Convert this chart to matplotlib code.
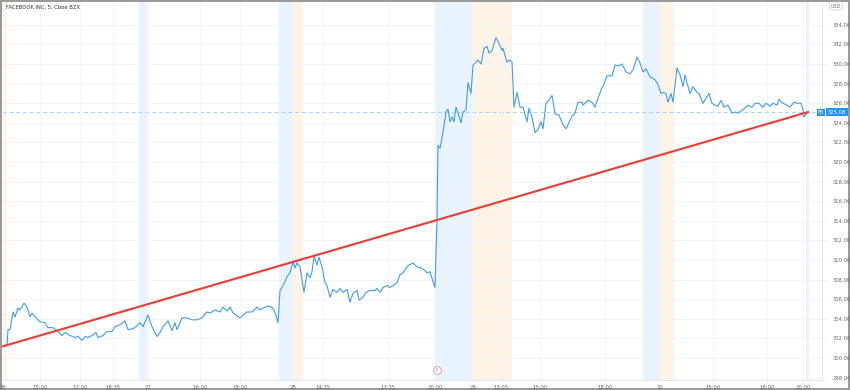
import matplotlib
matplotlib.use('Agg')
import matplotlib.pyplot as plt
from matplotlib.transforms import blended_transform_factory

# 5 minute bars (bar index) and close prices
bar = [3, 7, 8, 10, 13, 15, 18, 20, 24, 27, 30, 32, 35, 40, 45, 48, 53, 58, 62, 65,
       70, 75, 78, 82, 85, 88, 92, 96, 98, 103, 107, 112, 115, 120, 125, 128, 133, 137, 140, 143,
       148, 152, 157, 160, 163, 168, 172, 175, 177, 182, 187, 192, 197, 202, 207, 210, 215, 220, 223, 227,
       230, 233, 240, 247, 252, 257, 260, 263, 268, 272, 275, 278, 280, 282, 285, 287, 290, 293, 295, 297,
       300, 304, 307, 310, 312, 314, 317, 319, 322, 325, 327, 330, 333, 337, 340, 343, 347, 350, 353, 357,
       359, 363, 366, 370, 375, 377, 380, 383, 387, 390, 393, 397, 400, 403, 407, 409, 413, 417, 421, 424,
       427, 430, 433, 435, 437, 438, 440, 443, 446, 448, 450, 452, 454, 456, 458, 461, 463, 466, 468, 471,
       473, 476, 478, 481, 484, 487, 489, 492, 496, 499, 502, 503, 507, 509, 512, 514, 517, 520, 523, 527,
       529, 532, 535, 538, 541, 543, 546, 549, 552, 555, 559, 563, 566, 568, 572, 575, 578, 582, 583, 588,
       592, 595, 598, 602, 603, 607, 612, 615, 618, 622, 626, 630, 633, 637, 640, 643, 646, 650, 655, 658,
       661, 663, 666, 668, 671, 673, 677, 680, 683, 685, 687, 690, 693, 697, 699, 703, 706, 709, 712, 715,
       718, 721, 724, 728, 732, 735, 738, 742, 745, 748, 752, 755, 759, 763, 766, 770, 773, 777, 779, 783,
       787, 790, 794, 797, 801, 803, 804, 807, 808]
close = [301.2, 301.3, 302.9, 302.9, 304.7, 304.2, 305.1, 304.9, 305.6, 305.2, 304.2, 304.6, 304.2, 303.7, 303.6, 303.1, 303.1, 302.7, 302.3, 302.6,
         302.3, 302.1, 302.2, 301.8, 302.2, 302.1, 302.3, 302.6, 302.1, 302.3, 302.7, 302.7, 303.2, 303.4, 303.8, 302.9, 303.0, 303.3, 303.6, 303.2,
         304.4, 303.2, 302.2, 302.6, 303.2, 303.8, 302.8, 303.6, 302.9, 304.1, 304.1, 303.9, 303.9, 304.1, 304.7, 304.6, 304.9, 304.7, 305.2, 304.8,
         305.2, 304.6, 304.1, 304.7, 304.7, 305.2, 304.9, 305.1, 305.3, 305.2, 304.7, 303.6, 306.9, 307.2, 307.8, 308.3, 308.7, 309.8, 309.2, 309.7,
         309.3, 306.7, 308.7, 308.2, 308.8, 310.4, 309.5, 310.3, 309.3, 307.7, 307.4, 306.2, 307.0, 306.7, 307.1, 306.7, 307.0, 305.7, 306.6, 306.9,
         305.9, 306.2, 306.7, 306.9, 306.9, 307.1, 306.7, 307.2, 307.4, 307.2, 307.4, 307.7, 308.5, 308.7, 309.3, 309.5, 309.7, 309.3, 309.2, 309.0,
         308.7, 308.8, 307.8, 307.2, 314.1, 321.7, 321.4, 323.0, 325.1, 325.4, 324.1, 324.6, 324.1, 325.6, 325.0, 324.0, 325.1, 325.3, 328.1, 327.0,
         329.9, 330.2, 330.4, 330.0, 331.6, 331.8, 331.1, 331.4, 332.7, 332.1, 331.4, 331.6, 330.2, 330.4, 330.2, 325.6, 327.1, 325.6, 325.6, 324.1,
         325.5, 324.6, 323.0, 323.3, 324.1, 323.4, 326.0, 326.3, 326.8, 324.9, 324.8, 323.8, 323.4, 323.8, 324.7, 325.0, 326.1, 326.1, 325.8, 326.3,
         326.1, 325.6, 326.5, 327.6, 327.7, 328.8, 328.8, 329.9, 329.8, 330.0, 329.2, 329.0, 329.4, 330.7, 330.1, 329.2, 329.5, 328.7, 328.4, 327.9,
         327.0, 327.1, 327.0, 326.1, 327.0, 326.1, 329.6, 328.9, 327.7, 328.9, 328.1, 327.0, 327.7, 327.1, 327.0, 326.0, 326.5, 327.0, 326.0, 325.8,
         325.7, 326.3, 325.6, 325.8, 325.0, 325.1, 325.0, 325.3, 325.5, 325.8, 325.6, 326.0, 326.0, 325.6, 326.0, 325.7, 326.0, 325.8, 326.4, 326.0,
         325.8, 325.6, 326.1, 326.0, 326.0, 325.4, 324.6, 325.0, 325.08]

last_price = 325.08
trend_x = [3, 808]
trend_y = [301.2, 325.1]

tick_bars = [3, 40, 80, 113, 148, 200, 240, 293, 323, 388, 435, 473, 501, 540, 605, 660, 713, 767, 803]
tick_labels = ['26', '15:00', '17:00', '18:35', '27', '16:00', '18:00', '28', '14:35', '17:35', '20:00',
               '29', '13:05', '15:00', '18:00', '30', '15:00', '18:00', '20:00']
y_ticks = list(range(298, 336, 2))

# extended hours sessions (start bar, end bar)
premarket = [(139, 147), (279, 292), (435, 472), (643, 659), (806, 809)]
postmarket = [(3, 7), (292, 303), (472, 512), (659, 674)]
earnings_bar = 437

fig = plt.figure(figsize=(8.5, 3.9), dpi=100, linewidth=1.5, edgecolor='#9a9a9a')
ax = fig.add_axes([2/850, 10/390, 820/850, 378/390])
ax.set_xlim(2, 822)
ax.set_ylim(297.76, 336.33)

for a, b in premarket:
    ax.axvspan(a, b, color='#e9f3fd', lw=0, zorder=0)
for a, b in postmarket:
    ax.axvspan(a, b, color='#fdf4e6', lw=0, zorder=0)

ax.set_xticks(tick_bars)
ax.set_xticklabels(tick_labels)
ax.set_yticks(y_ticks)
ax.set_yticklabels([f'{v:.2f}' for v in y_ticks])
ax.yaxis.tick_right()
ax.grid(True, color='#f0f3fa', lw=0.6, zorder=0)
ax.tick_params(axis='both', labelsize=3.8, colors='#e0e3eb', labelcolor='#666666', length=2, width=0.5, pad=1.5)
ax.tick_params(axis='y', pad=6)

for s in ['top', 'left']:
    ax.spines[s].set_visible(False)
for s in ['right', 'bottom']:
    ax.spines[s].set_color('#e0e3eb')
    ax.spines[s].set_linewidth(0.6)

ax.axhline(last_price, color='#a9d0f5', lw=0.7, ls=(0, (4, 3)), zorder=1)
ax.plot(bar, close, color='#3d9df0', lw=0.8, zorder=3)
ax.plot(trend_x, trend_y, color='#ee3b33', lw=1.5, zorder=4)

# earnings marker
tr = blended_transform_factory(ax.transData, ax.transAxes)
ax.plot([earnings_bar], [0.027], transform=tr, marker='o', ms=5.5, mfc='white', mec='#f08a8a', mew=0.6, clip_on=False, zorder=5)
ax.text(earnings_bar, 0.027, 'E', transform=tr, fontsize=2.5, color='#e05050', ha='center', va='center', zorder=6)

# last price labels on the price scale
tr2 = blended_transform_factory(fig.transFigure, ax.transData)
ax.text(821/850, last_price, 'FB', transform=tr2, fontsize=3.5, color='white', ha='center', va='center',
        bbox=dict(boxstyle='square,pad=0.25', fc='#2196f3', ec='none'), zorder=6)
ax.text(837/850, last_price, f'{last_price:.2f}', transform=tr2, fontsize=3.8, color='white', ha='center', va='center',
        bbox=dict(boxstyle='square,pad=0.25', fc='#2196f3', ec='none'), zorder=6)

fig.text(6/850, 1 - 7/390, 'FACEBOOK INC, 5, Cboe BZX', fontsize=3.8, color='#333333', va='center', ha='left')
fig.text(836/850, 1 - 6/390, 'USD', fontsize=3.5, color='#777777', va='center', ha='center',
         bbox=dict(boxstyle='round,pad=0.3', fc='white', ec='#d0d0d0', lw=0.5))

fig.savefig('out.png', dpi=100)
